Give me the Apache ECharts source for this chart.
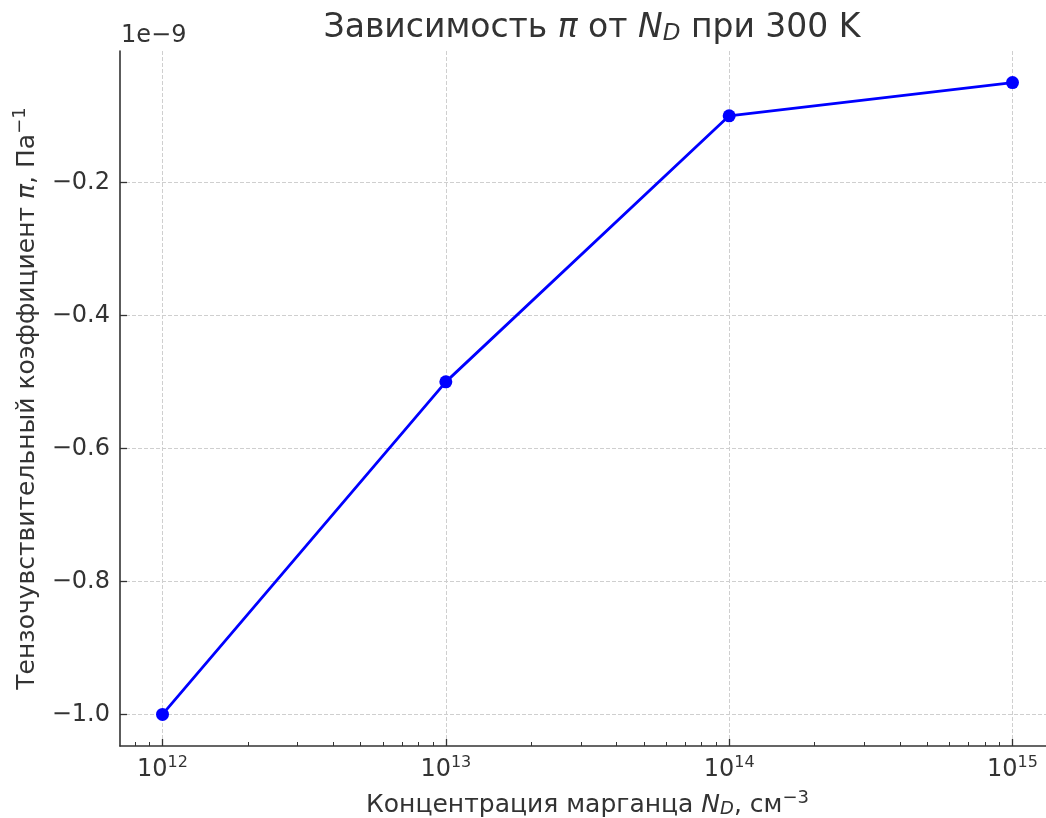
<!DOCTYPE html>
<html><head><meta charset="utf-8">
<script src="https://cdn.jsdelivr.net/npm/echarts@6/dist/echarts.min.js"></script>
<style>html,body{margin:0;padding:0;background:#fff}#chart{width:1046px;height:818px}</style>
</head><body><div id="chart"></div>
<script>
// ---- data ----
const concentrations = [1e12, 1e13, 1e14, 1e15];      // N_D, см^-3
const piValues = [-1.0, -0.5, -0.1, -0.05];           // π, ×1e-9 Па^-1
const xTickValues = [1e12, 1e13, 1e14, 1e15];
const yTickValues = [-1.0, -0.8, -0.6, -0.4, -0.2];
const offsetText = '1e−9';
const titleText = 'Зависимость {i|π} от {i|N}{sub|D} при 300 K';
const xName = 'Концентрация марганца {i|N}{sub|D}, см{sup|−3}';
const yName = 'Тензочувствительный коэффициент {i|π}, Па{sup|−1}';

// ---- styling ----
const FONT = 'DejaVu Sans';
const TXT = '#333333';
const AX = '#333333';
const GRIDC = '#cfcfcf';
const TICK_FS = 24, NAME_FS = 25, TITLE_FS = 33;

const minorTicks = [];
for (let n = 11; n <= 15; n++) for (let k = 2; k <= 9; k++) minorTicks.push(k * Math.pow(10, n));

const xMin = Math.pow(10, 11.85), xMax = Math.pow(10, 15.15);

const richCommon = (size) => ({
  i: {fontFamily: FONT, fontStyle: 'italic', fontSize: size, color: TXT},
  sub: {fontFamily: FONT, fontStyle: 'italic', fontSize: Math.round(size * 0.7), color: TXT, padding: [Math.round(size * 0.35), 0, 0, 0]},
  sup: {fontFamily: FONT, fontSize: Math.round(size * 0.7), color: TXT, padding: [0, 0, Math.round(size * 0.55), 0]}
});

const chart = echarts.init(document.getElementById('chart'), null, {renderer: 'canvas'});
chart.setOption({
  animation: false,
  backgroundColor: '#ffffff',
  title: {
    text: titleText, left: 587, textAlign: 'center', top: 6,
    textStyle: {fontFamily: FONT, fontSize: TITLE_FS, fontWeight: 'normal', color: TXT, rich: richCommon(TITLE_FS)}
  },
  graphic: [{
    type: 'text', left: 121, top: 24,
    style: {text: offsetText, fontFamily: FONT, fontSize: TICK_FS, fill: TXT}
  }],
  grid: {left: 120, top: 51, width: 935, height: 695, containLabel: false, outerBoundsMode: 'none'},
  xAxis: [{
    type: 'log', logBase: 10, min: xMin, max: xMax, position: 'bottom',
    axisLine: {show: true, lineStyle: {color: AX, width: 1.6}},
    axisTick: {show: true, inside: true, length: 7, customValues: xTickValues, lineStyle: {color: AX, width: 1.3}},
    minorTick: {show: false},
    axisLabel: {
      customValues: xTickValues, margin: 9, color: TXT, fontFamily: FONT, fontSize: TICK_FS,
      formatter: v => '10{sup|' + Math.round(Math.log10(v)) + '}',
      rich: {sup: {fontFamily: FONT, fontSize: 16, color: TXT, padding: [0, 0, 14, 0]}}
    },
    splitLine: {show: true, lineStyle: {color: GRIDC, width: 1, type: [4, 2]}},
    name: xName, nameLocation: 'middle', nameGap: 43,
    nameTextStyle: {fontFamily: FONT, fontSize: NAME_FS, color: TXT, rich: richCommon(NAME_FS)}
  }, {
    type: 'log', logBase: 10, min: xMin, max: xMax, position: 'bottom',
    axisLine: {show: false},
    axisTick: {show: true, inside: true, length: 4, customValues: minorTicks, lineStyle: {color: AX, width: 1}},
    axisLabel: {show: false},
    splitLine: {show: false}
  }],
  yAxis: {
    type: 'value', min: -1.0475, max: -0.0025,
    axisLine: {show: true, lineStyle: {color: AX, width: 1.6}},
    axisTick: {show: true, inside: true, length: 7, customValues: yTickValues, lineStyle: {color: AX, width: 1.3}},
    axisLabel: {
      customValues: yTickValues, margin: 10, color: TXT, fontFamily: FONT, fontSize: TICK_FS,
      formatter: v => v.toFixed(1).replace('-', '−')
    },
    splitLine: {show: true, lineStyle: {color: GRIDC, width: 1, type: [4, 2]}},
    name: yName, nameLocation: 'middle', nameRotate: 90, nameGap: 77,
    nameTextStyle: {fontFamily: FONT, fontSize: NAME_FS, color: TXT, rich: richCommon(NAME_FS)}
  },
  series: [{
    type: 'line', xAxisIndex: 0, yAxisIndex: 0,
    data: concentrations.map((c, i) => [c, piValues[i]]),
    symbol: 'circle', symbolSize: 13, showSymbol: true,
    lineStyle: {color: '#0000ff', width: 2.8},
    itemStyle: {color: '#0000ff'},
    clip: false, z: 5
  }]
});
</script></body></html>
